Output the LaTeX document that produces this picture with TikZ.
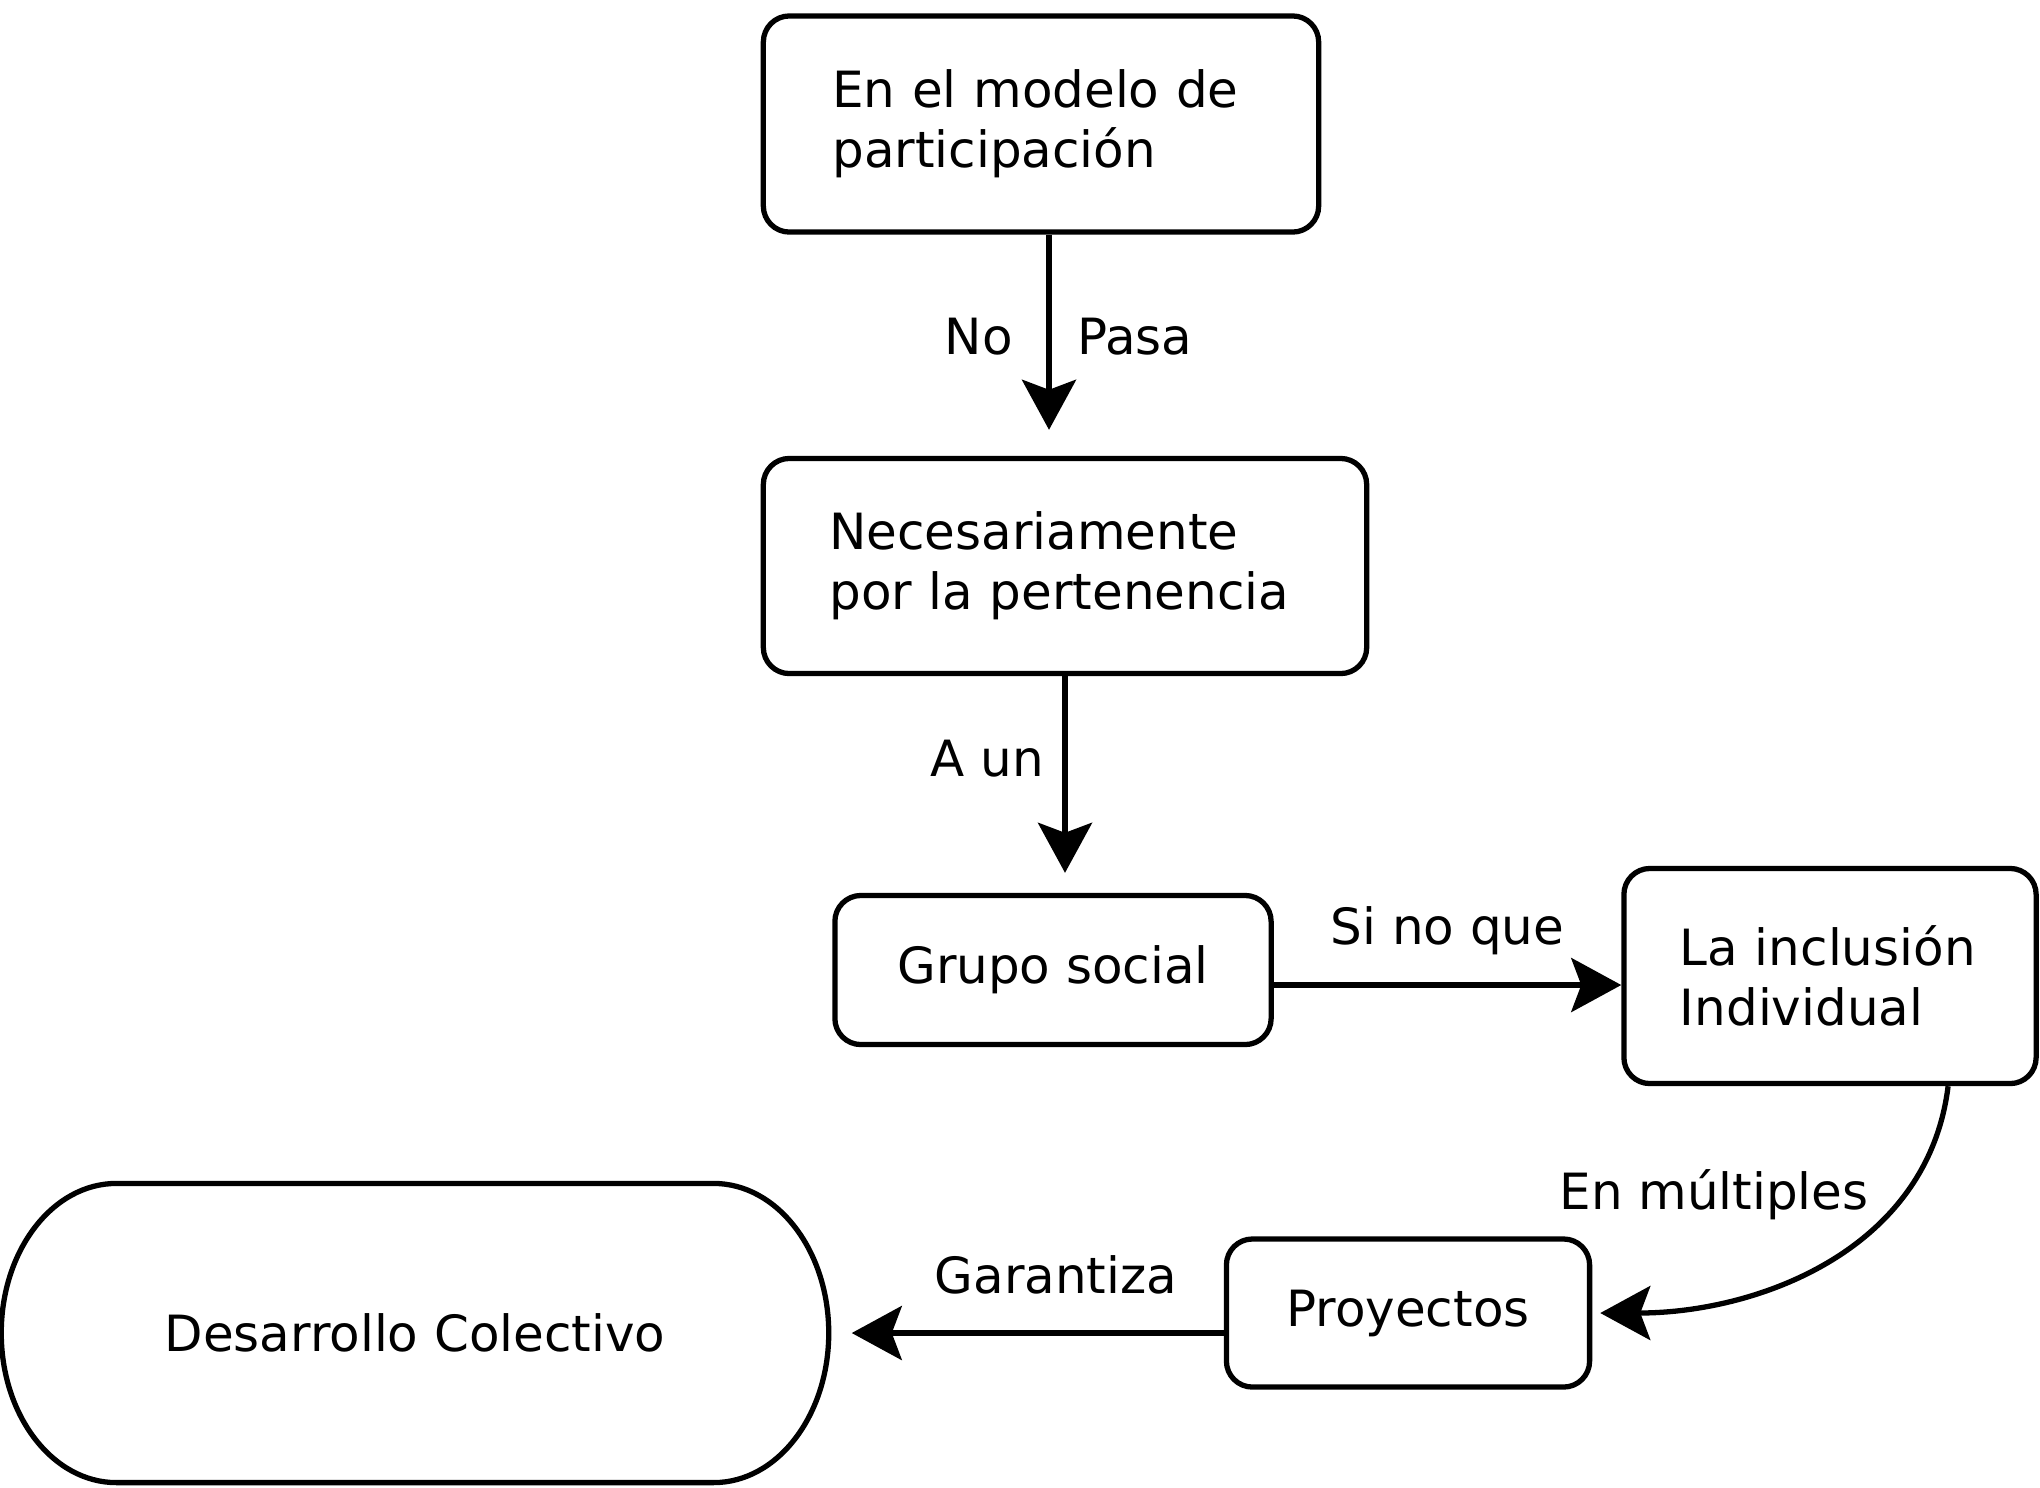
\documentclass[tikz,border=0pt]{standalone}
\usepackage{fontspec}
\setmainfont{DejaVu Sans}
\usetikzlibrary{positioning,arrows.meta,calc}

\begin{document}
\begin{tikzpicture}[x=0.01cm,y=-0.01cm,font=\fontsize{14.2}{17}\selectfont,
    caixa/.style={draw,line width=1.5pt,rounded corners=0.26cm,inner sep=0pt},
    seta/.style={line width=1.5pt,-{Stealth[length=5mm,width=5.4mm,inset=1mm]}},
    rotulo/.style={inner sep=1pt}]
    \useasboundingbox (0,0) rectangle (2040,1487);

    % Caixas do fluxo principal
    \node[caixa,text width=4.17cm,inner xsep=0.69cm,minimum height=2.16cm,align=left] (modelo) at (1041,124) {En el modelo de\\participación};
    \node[caixa,text width=4.71cm,inner xsep=0.66cm,minimum height=2.15cm,align=left] (pertenencia) at (1065,566) {Necesariamente\\por la pertenencia};
    \node[caixa,minimum width=4.36cm,minimum height=1.49cm] (grupo) at (1053,970) {Grupo social};
    \node[caixa,text width=3.0cm,inner xsep=0.56cm,minimum height=2.15cm,align=left] (inclusion) at (1830,976) {La inclusión\\Individual};
    \node[caixa,minimum width=3.63cm,minimum height=1.48cm] (proyectos) at (1408,1313) {Proyectos};

    % Terminal (lados em arco)
    \node[minimum width=8.27cm,minimum height=2.99cm,outer sep=0pt] (desarrollo) at (415,1333) {Desarrollo Colectivo};
    \draw[line width=1.5pt] (desarrollo.north) -- ([xshift=-1.15cm]desarrollo.north east)
        arc[start angle=90,end angle=-90,x radius=1.15cm,y radius=1.495cm]
        -- ([xshift=1.15cm]desarrollo.south west)
        arc[start angle=270,end angle=90,x radius=1.15cm,y radius=1.495cm] -- cycle;

    % Setas com rotulos
    \draw[seta,shorten >=0.26cm] ([xshift=0.08cm]modelo.south) -- node[rotulo,pos=0.46,left=0.3cm] (no) {No} node[rotulo,pos=0.46,right=0.22cm] (pasa) {Pasa} ([xshift=0.08cm]modelo.south |- pertenencia.north);
    \draw[seta,shorten >=0.2cm] (pertenencia.south) -- node[rotulo,pos=0.38,left=0.15cm] (aun) {A un} (pertenencia.south |- grupo.north);
    \draw[seta] ([yshift=-0.15cm]grupo.east) -- node[rotulo,above=0.24cm] (sinoque) {Si no que} ([yshift=-0.15cm]grupo.east -| inclusion.west);
    \draw[seta,shorten >=0.08cm] ([xshift=1.18cm]inclusion.south) to[out=-97,in=0] node[rotulo,pos=0.26,left=0.3cm] (multiples) {En múltiples} (proyectos.east);
    \draw[seta,shorten >=0.23cm] (proyectos.west |- desarrollo.east) -- node[rotulo,pos=0.425,above=0.33cm] (garantiza) {Garantiza} (desarrollo.east);

\end{tikzpicture}
\end{document}
